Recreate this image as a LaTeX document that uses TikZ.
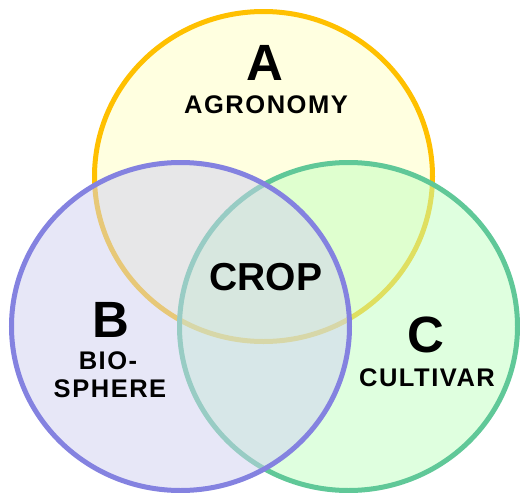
\documentclass[tikz,border=0pt]{standalone}
\usepackage{fontspec}
\setmainfont{Liberation Sans}
\newfontfamily\spaced[LetterSpace=6]{Liberation Sans}
\usepackage{tikz}

\definecolor{afill}{HTML}{FFFFE0}
\definecolor{aline}{HTML}{FFC000}
\definecolor{bfill}{HTML}{D0D0F0}
\definecolor{bline}{HTML}{8482E0}
\definecolor{cfill}{HTML}{C0FFC0}
\definecolor{cline}{HTML}{60C898}

\tikzset{
	setline/.style={line width=5pt},
	big/.style={inner sep=0pt,font=\fontsize{51}{51}\selectfont\bfseries},
	small/.style={inner sep=0pt,font=\fontsize{25.5}{25.5}\selectfont\spaced\bfseries}
}

\begin{document}
\begin{tikzpicture}[x=1pt,y=-1pt]
	\useasboundingbox (0,0) rectangle (520,493);

	% circles: A first, then C, then B on top
	\draw[setline,draw=aline,fill=afill] (263.5,176.5) ellipse [x radius=169,y radius=165];
	\draw[setline,draw=cline,fill=cfill,fill opacity=0.5] (348.5,326.5) ellipse [x radius=169,y radius=164];
	\draw[setline,draw=bline,fill=bfill,fill opacity=0.5] (180.5,326.5) ellipse [x radius=169,y radius=164];

	\node[big] (a) at (265, 63)     {A};
	\node[small] (agro) at (266, 105)     {AGRONOMY};
	\node[big] (b) at (111, 320)     {B};
	\node[small] (bio) at (108, 361)     {BIO-};
	\node[small] (sphere) at (110, 389)     {SPHERE};
	\node[big] (c) at (426, 335)     {C};
	\node[small] (cult) at (427, 378)     {CULTIVAR};
	\node[inner sep=0pt,font=\fontsize{39}{39}\selectfont\bfseries] (crop) at (266, 277)     {CROP};

\end{tikzpicture}
\end{document}
